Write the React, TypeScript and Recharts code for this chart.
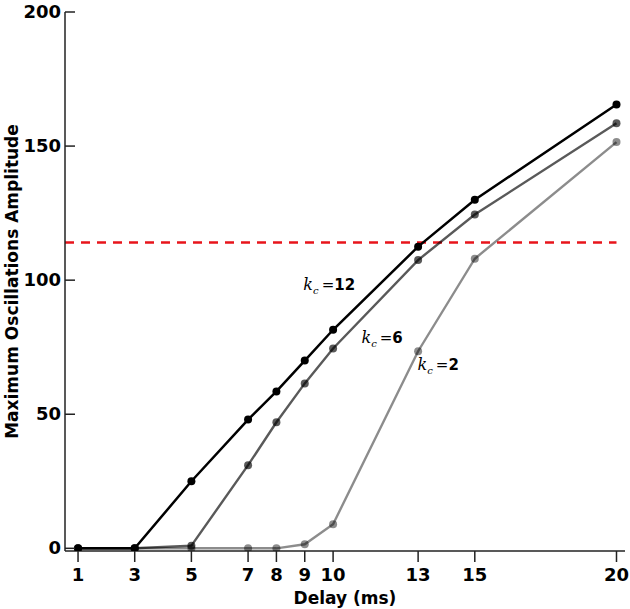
import React from 'react';
import { LineChart, Line, XAxis, YAxis, ReferenceLine, ReferenceDot } from 'recharts';

const delays = [1, 3, 5, 7, 8, 9, 10, 13, 15, 20];
const kc12 = [0, 0, 25, 48, 58.5, 70, 81.5, 112.5, 130, 165.5];
const kc6 = [0, 0, 1, 31, 47, 61.5, 74.5, 107.5, 124.5, 158.5];
const kc2 = [0, 0, 0, 0, 0, 1.5, 9, 73.5, 108, 151.5];
const xTicks = [1, 3, 5, 7, 8, 9, 10, 13, 15, 20];
const yTicks = [0, 50, 100, 150, 200];
const threshold = 114;
const labels = [
  { value: '12', x: 8.95, y: 96.5 },
  { value: '6', x: 11.0, y: 76.5 },
  { value: '2', x: 12.98, y: 66.5 },
];

const data = delays.map((d, i) => ({ delay: d, k12: kc12[i], k6: kc6[i], k2: kc2[i] }));

const FONT = '"DejaVu Sans", sans-serif';

const YTick = (props: any) => {
  const { x, y, payload } = props;
  const ax = x + 3;
  return (
    <g>
      <line x1={ax} x2={ax + 10} y1={y} y2={y} stroke="#222" strokeWidth={1.5} />
      <text x={ax - 4} y={y} dy={6} textAnchor="end" fontFamily={FONT} fontWeight="bold" fontSize={18} fill="#000">
        {payload.value}
      </text>
    </g>
  );
};

const XTick = (props: any) => {
  const { x, y, payload } = props;
  const ay = y - 0;
  return (
    <g>
      <line x1={x} x2={x} y1={ay} y2={ay + 11} stroke="#222" strokeWidth={1.5} />
      <text x={x} y={ay + 30} textAnchor="middle" fontFamily={FONT} fontWeight="bold" fontSize={18} fill="#000">
        {payload.value}
      </text>
    </g>
  );
};

const KLabel = (value: string) => (props: any) => {
  const { cx, cy } = props;
  return (
    <text x={cx} y={cy} fontSize={15} fill="#000">
      <tspan fontFamily='"DejaVu Serif", serif' fontStyle="italic" fontSize={16}>k</tspan>
      <tspan fontFamily='"DejaVu Serif", serif' fontStyle="italic" fontSize={10} dy={4}>c</tspan>
      <tspan fontFamily='"DejaVu Sans", sans-serif' dy={-4} dx={3}>=</tspan>
      <tspan fontFamily={FONT} fontWeight="bold">{value}</tspan>
    </text>
  );
};

export default function App() {
  return (
    <div style={{ position: 'absolute', left: 0, top: 0, width: 630, height: 609, background: '#fff' }}>
      <LineChart width={630} height={609} data={data} margin={{ top: 12, right: 5, bottom: 0, left: 0 }}>
        <XAxis
          dataKey="delay"
          type="number"
          domain={[0.54, 20.3]}
          ticks={xTicks}
          interval={0}
          allowDataOverflow
          tickLine={false}
          tickSize={0}
          tickMargin={0}
          tick={<XTick />}
          height={58}
          stroke="#222"
          strokeWidth={1.5}
          label={{ value: 'Delay (ms)', position: 'insideBottom', offset: 5, style: { fontFamily: FONT, fontWeight: 'bold', fontSize: 17, fill: '#000' } }}
        />
        <YAxis
          type="number"
          domain={[-1, 200]}
          ticks={yTicks}
          interval={0}
          allowDataOverflow
          tickLine={false}
          tickSize={0}
          tickMargin={3}
          tick={<YTick />}
          width={65}
          stroke="#222"
          strokeWidth={1.5}
          label={{ value: 'Maximum Oscillations Amplitude', angle: -90, position: 'insideLeft', offset: 12, style: { fontFamily: FONT, fontWeight: 'bold', fontSize: 17, fill: '#000', textAnchor: 'middle' } }}
        />
        <ReferenceLine
          segment={[{ x: 0.54, y: threshold }, { x: 20, y: threshold }]}
          stroke="#e8141b"
          strokeWidth={2.5}
          strokeDasharray="9 7"
        />
        <Line dataKey="k2" stroke="rgba(0,0,0,0.45)" strokeWidth={2.4} dot={{ r: 4, fill: 'rgba(0,0,0,0.45)', stroke: 'none' }} isAnimationActive={false} />
        <Line dataKey="k6" stroke="rgba(0,0,0,0.65)" strokeWidth={2.4} dot={{ r: 4, fill: 'rgba(0,0,0,0.65)', stroke: 'none' }} isAnimationActive={false} />
        <Line dataKey="k12" stroke="#000" strokeWidth={2.5} dot={{ r: 4, fill: '#000', stroke: 'none' }} isAnimationActive={false} />
        {labels.map((l) => (
          <ReferenceDot key={l.value} x={l.x} y={l.y} r={0} shape={KLabel(l.value)} />
        ))}
      </LineChart>
    </div>
  );
}
